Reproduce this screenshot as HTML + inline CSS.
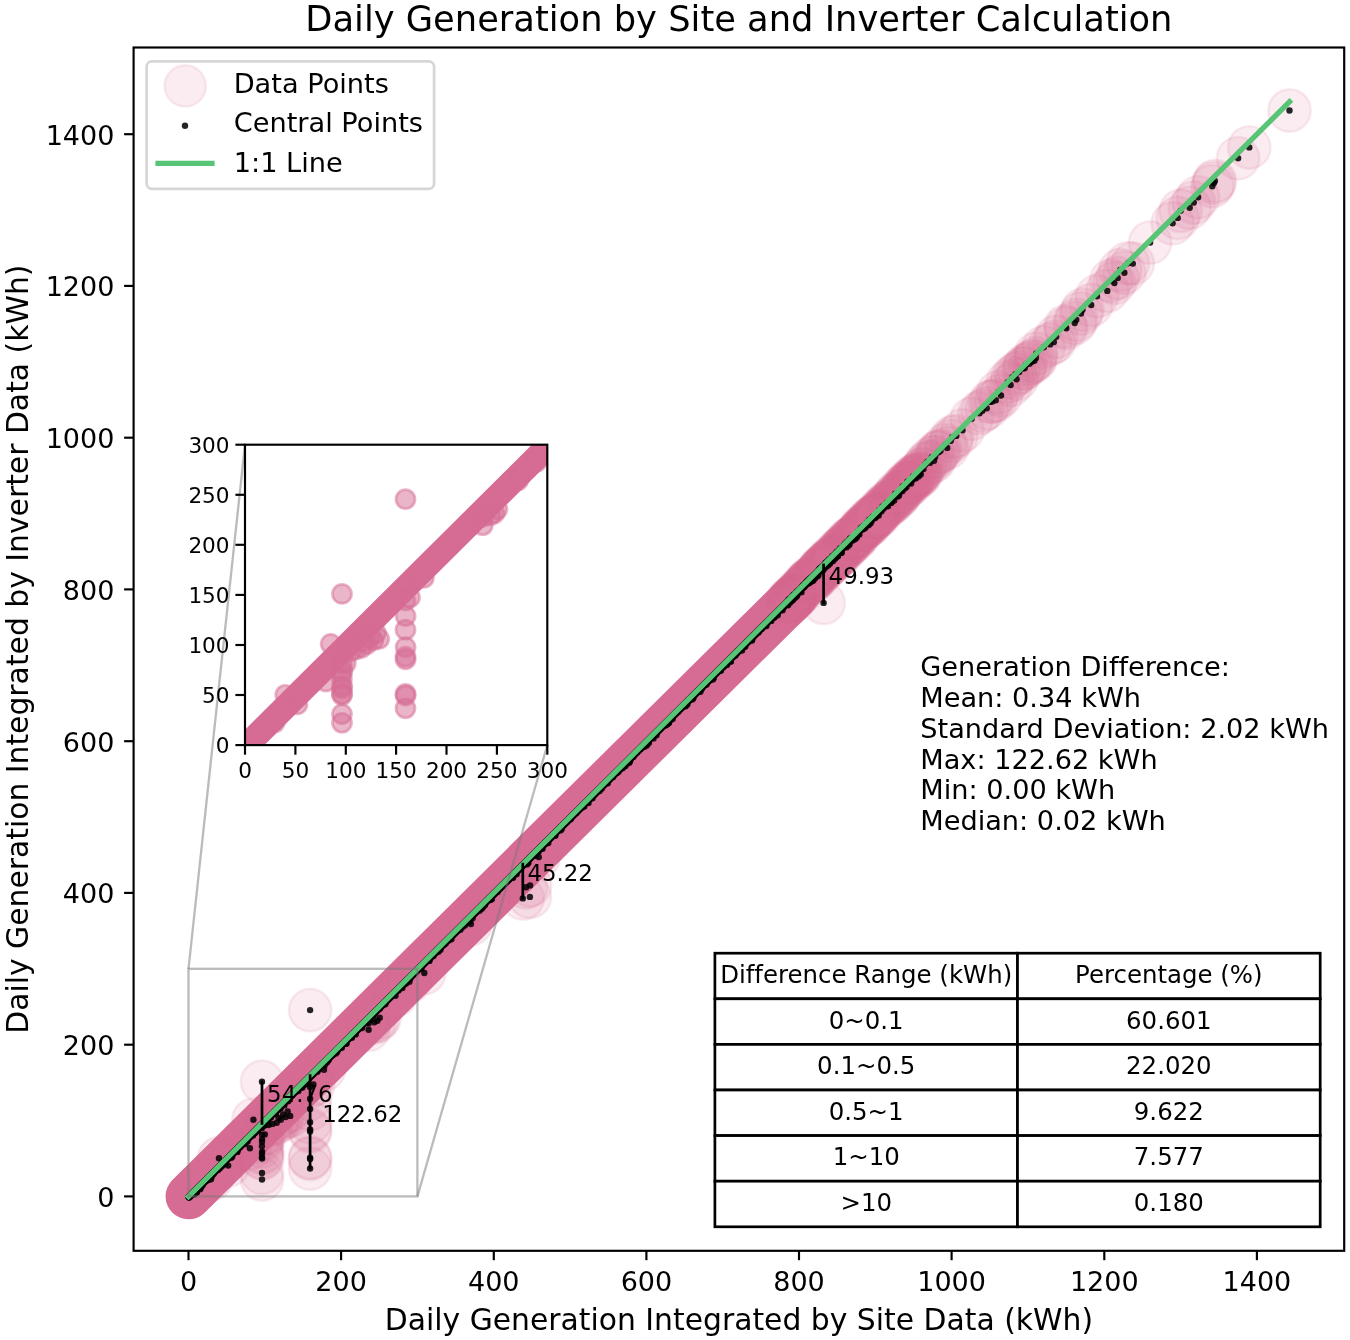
<!DOCTYPE html>
<html lang="en"><head><meta charset="utf-8"><title>Daily Generation by Site and Inverter Calculation</title>
<style>html,body{margin:0;padding:0;background:#fff}svg{display:block;font-variant-ligatures:none}</style></head>
<body>
<svg width="1350" height="1340" viewBox="0 0 1350 1340" font-family='"DejaVu Sans","Liberation Sans",sans-serif'>
<rect width="1350" height="1340" fill="#fff"/>
<defs><clipPath id="cm"><rect x="133.6" y="47.5" width="1210.6000000000001" height="1203.3"/></clipPath><clipPath id="ci"><rect x="245.0" y="444.7" width="302.29999999999995" height="300.40000000000003"/></clipPath></defs>
<g clip-path="url(#cm)">
<line x1="188.5" y1="1196.4" x2="795.2" y2="595.9" stroke="#d66b94" stroke-width="45.900000000000006" stroke-linecap="round"/>
<g fill="#d66b94" fill-opacity=".13" stroke="#d66b94" stroke-opacity=".13" stroke-width="2.4">
<circle cx="310.1" cy="1010.1" r="21.3"/>
<circle cx="262" cy="1081.8" r="21.3"/>
<circle cx="262" cy="1134.6" r="21.3"/>
<circle cx="262.1" cy="1139.1" r="21.3"/>
<circle cx="262" cy="1141.8" r="21.3"/>
<circle cx="261.9" cy="1146.3" r="21.3"/>
<circle cx="262.1" cy="1151.6" r="21.3"/>
<circle cx="262" cy="1153.5" r="21.3"/>
<circle cx="261.9" cy="1157.3" r="21.3"/>
<circle cx="262.1" cy="1158.5" r="21.3"/>
<circle cx="262" cy="1172.9" r="21.3"/>
<circle cx="262" cy="1179.5" r="21.3"/>
<circle cx="310.1" cy="1076.6" r="21.3"/>
<circle cx="310.1" cy="1086.9" r="21.3"/>
<circle cx="310.1" cy="1098.7" r="21.3"/>
<circle cx="310.1" cy="1109" r="21.3"/>
<circle cx="310.1" cy="1122.2" r="21.3"/>
<circle cx="310.1" cy="1129.4" r="21.3"/>
<circle cx="310.1" cy="1131.5" r="21.3"/>
<circle cx="310.1" cy="1157.6" r="21.3"/>
<circle cx="310.1" cy="1158.9" r="21.3"/>
<circle cx="310.1" cy="1168.5" r="21.3"/>
<circle cx="253.4" cy="1119.7" r="21.3"/>
<circle cx="219" cy="1158.3" r="21.3"/>
<circle cx="228.2" cy="1165.6" r="21.3"/>
<circle cx="249.9" cy="1148.2" r="21.3"/>
<circle cx="264.8" cy="1134.4" r="21.3"/>
<circle cx="211" cy="1179.3" r="21.3"/>
<circle cx="290.2" cy="1115.9" r="21.3"/>
<circle cx="285.6" cy="1117" r="21.3"/>
<circle cx="280.8" cy="1119.8" r="21.3"/>
<circle cx="276.7" cy="1122.7" r="21.3"/>
<circle cx="272.4" cy="1123.9" r="21.3"/>
<circle cx="283.1" cy="1114.5" r="21.3"/>
<circle cx="278.6" cy="1117.9" r="21.3"/>
<circle cx="268.6" cy="1125.1" r="21.3"/>
<circle cx="287.7" cy="1111.4" r="21.3"/>
<circle cx="324" cy="1069.7" r="21.3"/>
<circle cx="313.4" cy="1084.5" r="21.3"/>
<circle cx="368.6" cy="1029.8" r="21.3"/>
<circle cx="374.3" cy="1022.3" r="21.3"/>
<circle cx="377.4" cy="1020.8" r="21.3"/>
<circle cx="379.7" cy="1017.7" r="21.3"/>
<circle cx="395.5" cy="995.7" r="21.3"/>
<circle cx="409.4" cy="981.7" r="21.3"/>
<circle cx="424.3" cy="973" r="21.3"/>
<circle cx="522.8" cy="898.4" r="21.3"/>
<circle cx="529.9" cy="896.9" r="21.3"/>
<circle cx="530.1" cy="885.4" r="21.3"/>
<circle cx="526" cy="887.2" r="21.3"/>
<circle cx="538.8" cy="857.1" r="21.3"/>
<circle cx="470.9" cy="924" r="21.3"/>
<circle cx="368.6" cy="1023.4" r="21.3"/>
<circle cx="823.6" cy="602.9" r="21.3"/>
<circle cx="1289.5" cy="110.5" r="21.3"/>
<circle cx="1249.3" cy="147.4" r="21.3"/>
<circle cx="1238.1" cy="158.2" r="21.3"/>
<circle cx="1214.9" cy="180.9" r="21.3"/>
<circle cx="1213.9" cy="183" r="21.3"/>
<circle cx="1212.3" cy="186.2" r="21.3"/>
<circle cx="1198.1" cy="197.2" r="21.3"/>
<circle cx="1193.8" cy="202.6" r="21.3"/>
<circle cx="1189.7" cy="207.8" r="21.3"/>
<circle cx="1177.7" cy="217.9" r="21.3"/>
<circle cx="1172.6" cy="223.3" r="21.3"/>
<circle cx="1180.6" cy="210.8" r="21.3"/>
<circle cx="1150.1" cy="242.6" r="21.3"/>
<circle cx="1132.8" cy="263.6" r="21.3"/>
<circle cx="1124.4" cy="272.7" r="21.3"/>
<circle cx="1117.7" cy="277.9" r="21.3"/>
<circle cx="1114.4" cy="283.1" r="21.3"/>
<circle cx="1107.3" cy="290.9" r="21.3"/>
<circle cx="1127.9" cy="263.2" r="21.3"/>
<circle cx="1120.3" cy="270" r="21.3"/>
<circle cx="1111.1" cy="280.6" r="21.3"/>
<circle cx="1097" cy="296.2" r="21.3"/>
<circle cx="1091.2" cy="305" r="21.3"/>
<circle cx="1082.5" cy="309.8" r="21.3"/>
<circle cx="1076.3" cy="319.8" r="21.3"/>
<circle cx="1074.7" cy="323" r="21.3"/>
<circle cx="1066.3" cy="328.3" r="21.3"/>
<circle cx="1056.2" cy="336.8" r="21.3"/>
<circle cx="1053.9" cy="342.1" r="21.3"/>
<circle cx="1050.1" cy="344.4" r="21.3"/>
<circle cx="1065.3" cy="326.4" r="21.3"/>
<circle cx="1081" cy="313.5" r="21.3"/>
<circle cx="1035.9" cy="357.9" r="21.3"/>
<circle cx="1043.8" cy="347.2" r="21.3"/>
<circle cx="1010.6" cy="385" r="21.3"/>
<circle cx="1012.4" cy="377.2" r="21.3"/>
<circle cx="1015.5" cy="374.2" r="21.3"/>
<circle cx="1016.6" cy="379.3" r="21.3"/>
<circle cx="1019.1" cy="372" r="21.3"/>
<circle cx="1023" cy="368.6" r="21.3"/>
<circle cx="1024.8" cy="368" r="21.3"/>
<circle cx="1025.8" cy="365" r="21.3"/>
<circle cx="1029.5" cy="363.7" r="21.3"/>
<circle cx="1031.6" cy="361.8" r="21.3"/>
<circle cx="1034.4" cy="360.7" r="21.3"/>
<circle cx="1036.1" cy="353.7" r="21.3"/>
<circle cx="1007.6" cy="382.1" r="21.3"/>
<circle cx="979.5" cy="413.2" r="21.3"/>
<circle cx="982.4" cy="410.7" r="21.3"/>
<circle cx="986.7" cy="408.2" r="21.3"/>
<circle cx="990.2" cy="401.9" r="21.3"/>
<circle cx="992.3" cy="401.6" r="21.3"/>
<circle cx="995.8" cy="400.3" r="21.3"/>
<circle cx="998.2" cy="392.4" r="21.3"/>
<circle cx="1001" cy="395.5" r="21.3"/>
<circle cx="956.3" cy="435.9" r="21.3"/>
<circle cx="962.5" cy="430.3" r="21.3"/>
<circle cx="971.7" cy="418.7" r="21.3"/>
<circle cx="940.5" cy="450.8" r="21.3"/>
<circle cx="945.3" cy="445" r="21.3"/>
<circle cx="947.2" cy="447.9" r="21.3"/>
<circle cx="950.8" cy="440.8" r="21.3"/>
<circle cx="952.2" cy="437.2" r="21.3"/>
<circle cx="921.4" cy="469.3" r="21.3"/>
<circle cx="923.5" cy="469" r="21.3"/>
<circle cx="925.4" cy="464.4" r="21.3"/>
<circle cx="927.5" cy="461.6" r="21.3"/>
<circle cx="930.1" cy="462.7" r="21.3"/>
<circle cx="931.9" cy="457.3" r="21.3"/>
<circle cx="934" cy="460.8" r="21.3"/>
<circle cx="935.2" cy="456.9" r="21.3"/>
<circle cx="937.6" cy="452.6" r="21.3"/>
<circle cx="938.7" cy="452.1" r="21.3"/>
<circle cx="879.2" cy="510.3" r="21.3"/>
<circle cx="880" cy="511.4" r="21.3"/>
<circle cx="881.5" cy="511.3" r="21.3"/>
<circle cx="881.8" cy="509.6" r="21.3"/>
<circle cx="882.5" cy="506.5" r="21.3"/>
<circle cx="883.6" cy="508.5" r="21.3"/>
<circle cx="884.1" cy="507.3" r="21.3"/>
<circle cx="885.5" cy="504.9" r="21.3"/>
<circle cx="886.4" cy="506" r="21.3"/>
<circle cx="886.8" cy="502.8" r="21.3"/>
<circle cx="888" cy="506.2" r="21.3"/>
<circle cx="888.2" cy="503.3" r="21.3"/>
<circle cx="889.5" cy="503" r="21.3"/>
<circle cx="889.9" cy="500.8" r="21.3"/>
<circle cx="891.2" cy="502.9" r="21.3"/>
<circle cx="891.9" cy="501.7" r="21.3"/>
<circle cx="892.5" cy="499" r="21.3"/>
<circle cx="892.9" cy="498.2" r="21.3"/>
<circle cx="894.2" cy="500.6" r="21.3"/>
<circle cx="895.2" cy="493.8" r="21.3"/>
<circle cx="895.6" cy="495.2" r="21.3"/>
<circle cx="896.3" cy="494.4" r="21.3"/>
<circle cx="897.6" cy="496.6" r="21.3"/>
<circle cx="898.2" cy="495.8" r="21.3"/>
<circle cx="899" cy="495.6" r="21.3"/>
<circle cx="899.9" cy="492.3" r="21.3"/>
<circle cx="900.8" cy="490.7" r="21.3"/>
<circle cx="901.7" cy="490.1" r="21.3"/>
<circle cx="902.5" cy="491.1" r="21.3"/>
<circle cx="902.7" cy="486.4" r="21.3"/>
<circle cx="904" cy="486.4" r="21.3"/>
<circle cx="905" cy="488.3" r="21.3"/>
<circle cx="905.4" cy="484.9" r="21.3"/>
<circle cx="906.6" cy="486.7" r="21.3"/>
<circle cx="907.3" cy="481.7" r="21.3"/>
<circle cx="908.1" cy="482.8" r="21.3"/>
<circle cx="908.4" cy="482.6" r="21.3"/>
<circle cx="909.2" cy="482.8" r="21.3"/>
<circle cx="910.5" cy="481.1" r="21.3"/>
<circle cx="911.1" cy="483.6" r="21.3"/>
<circle cx="912.2" cy="480.3" r="21.3"/>
<circle cx="912.7" cy="477.1" r="21.3"/>
<circle cx="913.2" cy="476.5" r="21.3"/>
<circle cx="914" cy="478.4" r="21.3"/>
<circle cx="915.1" cy="476.4" r="21.3"/>
<circle cx="915.9" cy="478.2" r="21.3"/>
<circle cx="916.7" cy="474.4" r="21.3"/>
<circle cx="917.7" cy="474.9" r="21.3"/>
<circle cx="918.5" cy="476.4" r="21.3"/>
<circle cx="919.2" cy="473.4" r="21.3"/>
<circle cx="920.1" cy="472.2" r="21.3"/>
<circle cx="920.7" cy="474.4" r="21.3"/>
<circle cx="837.6" cy="556.3" r="21.3"/>
<circle cx="838" cy="555.9" r="21.3"/>
<circle cx="838.3" cy="551.5" r="21.3"/>
<circle cx="838.8" cy="551.6" r="21.3"/>
<circle cx="839.7" cy="549" r="21.3"/>
<circle cx="840" cy="552.8" r="21.3"/>
<circle cx="840.5" cy="548.2" r="21.3"/>
<circle cx="841.1" cy="552.9" r="21.3"/>
<circle cx="841.8" cy="552.4" r="21.3"/>
<circle cx="842.2" cy="549.2" r="21.3"/>
<circle cx="842.8" cy="547.4" r="21.3"/>
<circle cx="843.6" cy="545.8" r="21.3"/>
<circle cx="844" cy="545.4" r="21.3"/>
<circle cx="844.6" cy="547.2" r="21.3"/>
<circle cx="845.3" cy="543.4" r="21.3"/>
<circle cx="845.4" cy="545.2" r="21.3"/>
<circle cx="846.3" cy="544.3" r="21.3"/>
<circle cx="846.7" cy="547.2" r="21.3"/>
<circle cx="847.1" cy="541.6" r="21.3"/>
<circle cx="847.8" cy="545" r="21.3"/>
<circle cx="848.1" cy="544.7" r="21.3"/>
<circle cx="848.7" cy="545.4" r="21.3"/>
<circle cx="849.6" cy="539.1" r="21.3"/>
<circle cx="849.7" cy="543.9" r="21.3"/>
<circle cx="850.4" cy="538.3" r="21.3"/>
<circle cx="850.9" cy="539" r="21.3"/>
<circle cx="851.5" cy="538.4" r="21.3"/>
<circle cx="851.9" cy="538.4" r="21.3"/>
<circle cx="852.6" cy="540.6" r="21.3"/>
<circle cx="853.2" cy="537" r="21.3"/>
<circle cx="853.5" cy="537" r="21.3"/>
<circle cx="854.5" cy="537.7" r="21.3"/>
<circle cx="854.9" cy="539.3" r="21.3"/>
<circle cx="855.6" cy="535.9" r="21.3"/>
<circle cx="856.2" cy="535.2" r="21.3"/>
<circle cx="856.6" cy="537.8" r="21.3"/>
<circle cx="857.2" cy="535.7" r="21.3"/>
<circle cx="857.6" cy="533.6" r="21.3"/>
<circle cx="858" cy="531.7" r="21.3"/>
<circle cx="858.6" cy="531.6" r="21.3"/>
<circle cx="859.4" cy="534.4" r="21.3"/>
<circle cx="859.7" cy="530.9" r="21.3"/>
<circle cx="860.3" cy="529.8" r="21.3"/>
<circle cx="860.8" cy="528.1" r="21.3"/>
<circle cx="861.5" cy="527.4" r="21.3"/>
<circle cx="861.9" cy="529.3" r="21.3"/>
<circle cx="862.5" cy="529.4" r="21.3"/>
<circle cx="862.9" cy="529.1" r="21.3"/>
<circle cx="863.5" cy="526.3" r="21.3"/>
<circle cx="863.9" cy="525.6" r="21.3"/>
<circle cx="864.6" cy="527.9" r="21.3"/>
<circle cx="865.4" cy="527.4" r="21.3"/>
<circle cx="866" cy="525.4" r="21.3"/>
<circle cx="866.6" cy="523.6" r="21.3"/>
<circle cx="867" cy="522.7" r="21.3"/>
<circle cx="867.6" cy="525.1" r="21.3"/>
<circle cx="868.1" cy="522" r="21.3"/>
<circle cx="868.5" cy="525.3" r="21.3"/>
<circle cx="869.2" cy="519.6" r="21.3"/>
<circle cx="869.7" cy="523.4" r="21.3"/>
<circle cx="869.9" cy="520.2" r="21.3"/>
<circle cx="870.5" cy="523.3" r="21.3"/>
<circle cx="871.3" cy="521.4" r="21.3"/>
<circle cx="871.8" cy="517.7" r="21.3"/>
<circle cx="872.5" cy="519.6" r="21.3"/>
<circle cx="873" cy="516.8" r="21.3"/>
<circle cx="873.3" cy="516.5" r="21.3"/>
<circle cx="874.1" cy="516.4" r="21.3"/>
<circle cx="874.8" cy="517.3" r="21.3"/>
<circle cx="875" cy="518" r="21.3"/>
<circle cx="875.7" cy="517.2" r="21.3"/>
<circle cx="876" cy="514.8" r="21.3"/>
<circle cx="876.6" cy="515.9" r="21.3"/>
<circle cx="877" cy="513.9" r="21.3"/>
<circle cx="877.9" cy="515.2" r="21.3"/>
<circle cx="878.3" cy="513.6" r="21.3"/>
<circle cx="878.7" cy="515.6" r="21.3"/>
<circle cx="788" cy="605.2" r="21.3"/>
<circle cx="788.2" cy="600.2" r="21.3"/>
<circle cx="788.7" cy="601.4" r="21.3"/>
<circle cx="789.3" cy="600.5" r="21.3"/>
<circle cx="789.4" cy="599" r="21.3"/>
<circle cx="789.9" cy="602.8" r="21.3"/>
<circle cx="790.7" cy="601.5" r="21.3"/>
<circle cx="791.1" cy="600" r="21.3"/>
<circle cx="791.2" cy="600" r="21.3"/>
<circle cx="791.8" cy="597.8" r="21.3"/>
<circle cx="792.2" cy="600.6" r="21.3"/>
<circle cx="792.9" cy="600" r="21.3"/>
<circle cx="793.4" cy="595" r="21.3"/>
<circle cx="793.6" cy="597.1" r="21.3"/>
<circle cx="794.3" cy="597.3" r="21.3"/>
<circle cx="794.5" cy="595.7" r="21.3"/>
<circle cx="794.8" cy="598" r="21.3"/>
<circle cx="795.7" cy="594.4" r="21.3"/>
<circle cx="795.9" cy="593.9" r="21.3"/>
<circle cx="796.6" cy="596.5" r="21.3"/>
<circle cx="796.9" cy="591.6" r="21.3"/>
<circle cx="797.3" cy="595" r="21.3"/>
<circle cx="797.8" cy="593.2" r="21.3"/>
<circle cx="798.2" cy="592.1" r="21.3"/>
<circle cx="798.8" cy="590.7" r="21.3"/>
<circle cx="799" cy="591.3" r="21.3"/>
<circle cx="799.7" cy="590.4" r="21.3"/>
<circle cx="799.9" cy="591.7" r="21.3"/>
<circle cx="800.3" cy="589.4" r="21.3"/>
<circle cx="801.1" cy="590.3" r="21.3"/>
<circle cx="801.5" cy="592.2" r="21.3"/>
<circle cx="801.6" cy="588.3" r="21.3"/>
<circle cx="802.1" cy="587.2" r="21.3"/>
<circle cx="802.6" cy="585.9" r="21.3"/>
<circle cx="803.2" cy="587.7" r="21.3"/>
<circle cx="803.6" cy="587.2" r="21.3"/>
<circle cx="803.8" cy="584.6" r="21.3"/>
<circle cx="804.3" cy="587.1" r="21.3"/>
<circle cx="805.1" cy="584.9" r="21.3"/>
<circle cx="805.3" cy="585.6" r="21.3"/>
<circle cx="806" cy="582.5" r="21.3"/>
<circle cx="806.1" cy="583.1" r="21.3"/>
<circle cx="806.9" cy="584.3" r="21.3"/>
<circle cx="807" cy="581.5" r="21.3"/>
<circle cx="807.8" cy="580.7" r="21.3"/>
<circle cx="808" cy="581.5" r="21.3"/>
<circle cx="808.5" cy="580" r="21.3"/>
<circle cx="809.1" cy="583" r="21.3"/>
<circle cx="809.4" cy="582.2" r="21.3"/>
<circle cx="810" cy="578.5" r="21.3"/>
<circle cx="810.4" cy="580.1" r="21.3"/>
<circle cx="810.7" cy="581.4" r="21.3"/>
<circle cx="811.1" cy="578.3" r="21.3"/>
<circle cx="811.7" cy="579.2" r="21.3"/>
<circle cx="812.2" cy="576.9" r="21.3"/>
<circle cx="812.6" cy="581.1" r="21.3"/>
<circle cx="813.2" cy="578.1" r="21.3"/>
<circle cx="813.4" cy="580.3" r="21.3"/>
<circle cx="813.9" cy="575.3" r="21.3"/>
<circle cx="814.5" cy="576.6" r="21.3"/>
<circle cx="814.9" cy="578.6" r="21.3"/>
<circle cx="815.1" cy="575.6" r="21.3"/>
<circle cx="815.8" cy="574.2" r="21.3"/>
<circle cx="816.3" cy="575.2" r="21.3"/>
<circle cx="816.9" cy="573.7" r="21.3"/>
<circle cx="817" cy="573.1" r="21.3"/>
<circle cx="817.5" cy="576.2" r="21.3"/>
<circle cx="817.9" cy="572.3" r="21.3"/>
<circle cx="818.5" cy="575.2" r="21.3"/>
<circle cx="818.9" cy="569.7" r="21.3"/>
<circle cx="819.2" cy="570.1" r="21.3"/>
<circle cx="819.8" cy="568.8" r="21.3"/>
<circle cx="820.4" cy="568.2" r="21.3"/>
<circle cx="820.6" cy="567.9" r="21.3"/>
<circle cx="821.3" cy="568" r="21.3"/>
<circle cx="821.6" cy="569.4" r="21.3"/>
<circle cx="821.9" cy="567.2" r="21.3"/>
<circle cx="822.4" cy="571.3" r="21.3"/>
<circle cx="823.2" cy="566.9" r="21.3"/>
<circle cx="823.6" cy="569.6" r="21.3"/>
<circle cx="823.7" cy="567.8" r="21.3"/>
<circle cx="824.5" cy="565.5" r="21.3"/>
<circle cx="824.9" cy="564.3" r="21.3"/>
<circle cx="825.4" cy="567.5" r="21.3"/>
<circle cx="825.5" cy="563.1" r="21.3"/>
<circle cx="826" cy="562.6" r="21.3"/>
<circle cx="826.5" cy="562.1" r="21.3"/>
<circle cx="827.1" cy="563.3" r="21.3"/>
<circle cx="827.4" cy="563.1" r="21.3"/>
<circle cx="828" cy="565.6" r="21.3"/>
<circle cx="828.6" cy="560.7" r="21.3"/>
<circle cx="828.8" cy="559.8" r="21.3"/>
<circle cx="829.2" cy="561.2" r="21.3"/>
<circle cx="829.7" cy="564" r="21.3"/>
<circle cx="830.3" cy="562.5" r="21.3"/>
<circle cx="830.8" cy="561.4" r="21.3"/>
<circle cx="831" cy="559.9" r="21.3"/>
<circle cx="831.3" cy="558.8" r="21.3"/>
<circle cx="831.9" cy="557.6" r="21.3"/>
<circle cx="832.5" cy="556.2" r="21.3"/>
<circle cx="833.1" cy="561" r="21.3"/>
<circle cx="833.1" cy="556.5" r="21.3"/>
<circle cx="833.9" cy="557.5" r="21.3"/>
<circle cx="834.2" cy="558.1" r="21.3"/>
<circle cx="834.8" cy="558.6" r="21.3"/>
<circle cx="835" cy="558.4" r="21.3"/>
<circle cx="835.6" cy="555.4" r="21.3"/>
<circle cx="835.9" cy="554.5" r="21.3"/>
<circle cx="836.3" cy="557.3" r="21.3"/>
<circle cx="836.9" cy="551.8" r="21.3"/>
</g>
<g fill="#000" fill-opacity=".85">
<line x1="189.1" y1="1197" x2="837.8" y2="552.1" stroke="#000" stroke-width="7.7" stroke-linecap="round"/>
<circle cx="538.8" cy="850" r="3.2"/>
<circle cx="744.5" cy="647" r="3.2"/>
<circle cx="869.1" cy="521.2" r="3.2"/>
<circle cx="516.6" cy="874.2" r="3.2"/>
<circle cx="766.4" cy="626.1" r="3.2"/>
<circle cx="219.9" cy="1167.3" r="3.2"/>
<circle cx="273.7" cy="1113.4" r="3.2"/>
<circle cx="856.9" cy="535" r="3.2"/>
<circle cx="827.6" cy="563.4" r="3.2"/>
<circle cx="783.9" cy="607.1" r="3.2"/>
<circle cx="369.9" cy="1019.9" r="3.2"/>
<circle cx="838.2" cy="551.9" r="3.2"/>
<circle cx="599.5" cy="791.1" r="3.2"/>
<circle cx="341" cy="1047.2" r="3.2"/>
<circle cx="288.9" cy="1098.4" r="3.2"/>
<circle cx="366.4" cy="1022.7" r="3.2"/>
<circle cx="637.4" cy="751.9" r="3.2"/>
<circle cx="200.1" cy="1187.1" r="3.2"/>
<circle cx="655.6" cy="733.8" r="3.2"/>
<circle cx="405.5" cy="982.4" r="3.2"/>
<circle cx="735.5" cy="655.6" r="3.2"/>
<circle cx="235.5" cy="1151.1" r="3.2"/>
<circle cx="462.3" cy="927.2" r="3.2"/>
<circle cx="628.9" cy="760" r="3.2"/>
<circle cx="304.1" cy="1085" r="3.2"/>
<circle cx="472.2" cy="916.4" r="3.2"/>
<circle cx="402.4" cy="988.1" r="3.2"/>
<circle cx="405.7" cy="983.6" r="3.2"/>
<circle cx="436.3" cy="952.6" r="3.2"/>
<circle cx="782.6" cy="610.3" r="3.2"/>
<circle cx="440.8" cy="947.4" r="3.2"/>
<circle cx="689.6" cy="700.1" r="3.2"/>
<circle cx="196.3" cy="1192.8" r="3.2"/>
<circle cx="481.7" cy="908.8" r="3.2"/>
<circle cx="469.8" cy="920.9" r="3.2"/>
<circle cx="507.1" cy="881.3" r="3.2"/>
<circle cx="202.4" cy="1185.6" r="3.2"/>
<circle cx="629.9" cy="761.8" r="3.2"/>
<circle cx="253.1" cy="1135.4" r="3.2"/>
<circle cx="445.6" cy="943.6" r="3.2"/>
<circle cx="292" cy="1095.6" r="3.2"/>
<circle cx="548.3" cy="843" r="3.2"/>
<circle cx="266.6" cy="1121.5" r="3.2"/>
<circle cx="742" cy="650.5" r="3.2"/>
<circle cx="327.1" cy="1060.2" r="3.2"/>
<circle cx="836.4" cy="556.7" r="3.2"/>
<circle cx="522" cy="866.1" r="3.2"/>
<circle cx="824.9" cy="566.2" r="3.2"/>
<circle cx="809.9" cy="581.9" r="3.2"/>
<circle cx="755.5" cy="634.4" r="3.2"/>
<circle cx="729" cy="660.9" r="3.2"/>
<circle cx="468.6" cy="922" r="3.2"/>
<circle cx="758.7" cy="631.3" r="3.2"/>
<circle cx="341.3" cy="1047" r="3.2"/>
<circle cx="546" cy="843.4" r="3.2"/>
<circle cx="276.4" cy="1111" r="3.2"/>
<circle cx="687.4" cy="704.6" r="3.2"/>
<circle cx="220.4" cy="1167.8" r="3.2"/>
<circle cx="709.7" cy="679.5" r="3.2"/>
<circle cx="764.8" cy="625" r="3.2"/>
<circle cx="601.8" cy="788.5" r="3.2"/>
<circle cx="620.6" cy="769" r="3.2"/>
<circle cx="479.2" cy="910.5" r="3.2"/>
<circle cx="483.1" cy="906.9" r="3.2"/>
<circle cx="497.5" cy="891.9" r="3.2"/>
<circle cx="208.3" cy="1180" r="3.2"/>
<circle cx="526.7" cy="862.2" r="3.2"/>
<circle cx="713.8" cy="677.9" r="3.2"/>
<circle cx="505.3" cy="883.2" r="3.2"/>
<circle cx="515.5" cy="872.8" r="3.2"/>
<circle cx="280.1" cy="1108" r="3.2"/>
<circle cx="255" cy="1133" r="3.2"/>
<circle cx="540.8" cy="847.5" r="3.2"/>
<circle cx="627" cy="761.9" r="3.2"/>
<circle cx="693.3" cy="698.3" r="3.2"/>
<circle cx="541.7" cy="846.6" r="3.2"/>
<circle cx="536.5" cy="852.8" r="3.2"/>
<circle cx="841.8" cy="548.5" r="3.2"/>
<circle cx="777.7" cy="615.2" r="3.2"/>
<circle cx="692.3" cy="699.4" r="3.2"/>
<circle cx="324.6" cy="1065.6" r="3.2"/>
<circle cx="528.3" cy="863" r="3.2"/>
<circle cx="818" cy="572.3" r="3.2"/>
<circle cx="730.8" cy="661.6" r="3.2"/>
<circle cx="237.1" cy="1150.5" r="3.2"/>
<circle cx="708.8" cy="680.8" r="3.2"/>
<circle cx="804.7" cy="585.9" r="3.2"/>
<circle cx="749.4" cy="640.4" r="3.2"/>
<circle cx="535.3" cy="855.9" r="3.2"/>
<circle cx="334.6" cy="1053.2" r="3.2"/>
<circle cx="537.9" cy="851.2" r="3.2"/>
<circle cx="217.5" cy="1169.4" r="3.2"/>
<circle cx="302.4" cy="1087.5" r="3.2"/>
<circle cx="656.5" cy="735.3" r="3.2"/>
<circle cx="307.6" cy="1081.8" r="3.2"/>
<circle cx="270.9" cy="1117.4" r="3.2"/>
<circle cx="626.9" cy="762.9" r="3.2"/>
<circle cx="788.6" cy="602.9" r="3.2"/>
<circle cx="588.5" cy="802.9" r="3.2"/>
<circle cx="263.8" cy="1126.1" r="3.2"/>
<circle cx="622.5" cy="767.4" r="3.2"/>
<circle cx="737.1" cy="653" r="3.2"/>
<circle cx="868.8" cy="523.1" r="3.2"/>
<circle cx="438.4" cy="951.7" r="3.2"/>
<circle cx="494.4" cy="894" r="3.2"/>
<circle cx="700.2" cy="689" r="3.2"/>
<circle cx="752.3" cy="637.9" r="3.2"/>
<circle cx="628.9" cy="763" r="3.2"/>
<circle cx="592.5" cy="798.2" r="3.2"/>
<circle cx="405.9" cy="981.4" r="3.2"/>
<circle cx="215.4" cy="1171.3" r="3.2"/>
<circle cx="613.1" cy="776.9" r="3.2"/>
<circle cx="542.5" cy="848.7" r="3.2"/>
<circle cx="282.5" cy="1104.9" r="3.2"/>
<circle cx="638.4" cy="750.3" r="3.2"/>
<circle cx="194.1" cy="1193.2" r="3.2"/>
<circle cx="265" cy="1122.7" r="3.2"/>
<circle cx="345.5" cy="1043.5" r="3.2"/>
<circle cx="594.7" cy="794.4" r="3.2"/>
<circle cx="618.5" cy="771.7" r="3.2"/>
<circle cx="284.4" cy="1105.4" r="3.2"/>
<circle cx="358.7" cy="1028.8" r="3.2"/>
<circle cx="257.8" cy="1130.9" r="3.2"/>
<circle cx="787.4" cy="604.8" r="3.2"/>
<circle cx="466.9" cy="921.7" r="3.2"/>
<circle cx="200.2" cy="1188.1" r="3.2"/>
<circle cx="576.4" cy="813.1" r="3.2"/>
<circle cx="633.3" cy="756.9" r="3.2"/>
<circle cx="832.4" cy="559.9" r="3.2"/>
<circle cx="362" cy="1028.1" r="3.2"/>
<circle cx="222.4" cy="1165.7" r="3.2"/>
<circle cx="469.6" cy="918.9" r="3.2"/>
<circle cx="232.2" cy="1156.8" r="3.2"/>
<circle cx="200.8" cy="1187.2" r="3.2"/>
<circle cx="835" cy="555.3" r="3.2"/>
<circle cx="328.6" cy="1060.3" r="3.2"/>
<circle cx="538.6" cy="851.7" r="3.2"/>
<circle cx="747.9" cy="642" r="3.2"/>
<circle cx="403.6" cy="984.7" r="3.2"/>
<circle cx="225.4" cy="1163.9" r="3.2"/>
<circle cx="727.1" cy="664.5" r="3.2"/>
<circle cx="196.7" cy="1192.3" r="3.2"/>
<circle cx="701.3" cy="689.3" r="3.2"/>
<circle cx="698.9" cy="691.6" r="3.2"/>
<circle cx="346.6" cy="1040.7" r="3.2"/>
<circle cx="351" cy="1036.1" r="3.2"/>
<circle cx="421.5" cy="968.5" r="3.2"/>
<circle cx="667.1" cy="724.6" r="3.2"/>
<circle cx="678.4" cy="711.4" r="3.2"/>
<circle cx="570.6" cy="819.2" r="3.2"/>
<circle cx="730.8" cy="660.1" r="3.2"/>
<circle cx="373.5" cy="1015.8" r="3.2"/>
<circle cx="851.5" cy="539.1" r="3.2"/>
<circle cx="793.4" cy="596.2" r="3.2"/>
<circle cx="370.2" cy="1017.7" r="3.2"/>
<circle cx="700.4" cy="691.8" r="3.2"/>
<circle cx="701.9" cy="688.2" r="3.2"/>
<circle cx="793.5" cy="597.2" r="3.2"/>
<circle cx="355.7" cy="1034.4" r="3.2"/>
<circle cx="623.1" cy="767.8" r="3.2"/>
<circle cx="646.7" cy="745.4" r="3.2"/>
<circle cx="513" cy="877.8" r="3.2"/>
<circle cx="668.8" cy="723" r="3.2"/>
<circle cx="490.9" cy="899.3" r="3.2"/>
<circle cx="581.9" cy="807.5" r="3.2"/>
<circle cx="337.1" cy="1051.9" r="3.2"/>
<circle cx="245.5" cy="1144" r="3.2"/>
<circle cx="291.1" cy="1095.6" r="3.2"/>
<circle cx="265.2" cy="1124.5" r="3.2"/>
<circle cx="427.9" cy="960.1" r="3.2"/>
<circle cx="211.9" cy="1174.4" r="3.2"/>
<circle cx="665.4" cy="725.6" r="3.2"/>
<circle cx="668.4" cy="723" r="3.2"/>
<circle cx="237.2" cy="1151.1" r="3.2"/>
<circle cx="440.5" cy="949.8" r="3.2"/>
<circle cx="752.1" cy="640.3" r="3.2"/>
<circle cx="237.4" cy="1151.9" r="3.2"/>
<circle cx="816.9" cy="576" r="3.2"/>
<circle cx="265.5" cy="1121.7" r="3.2"/>
<circle cx="268.8" cy="1117.8" r="3.2"/>
<circle cx="771.3" cy="620.9" r="3.2"/>
<circle cx="625.5" cy="765.9" r="3.2"/>
<circle cx="623.7" cy="765.9" r="3.2"/>
<circle cx="260.5" cy="1126.3" r="3.2"/>
<circle cx="709.6" cy="680.2" r="3.2"/>
<circle cx="410.3" cy="978.5" r="3.2"/>
<circle cx="206.6" cy="1180.4" r="3.2"/>
<circle cx="385.3" cy="1004.3" r="3.2"/>
<circle cx="443.7" cy="944.9" r="3.2"/>
<circle cx="850.7" cy="540.9" r="3.2"/>
<circle cx="773.8" cy="617.7" r="3.2"/>
<circle cx="213.5" cy="1174.1" r="3.2"/>
<circle cx="490.4" cy="900" r="3.2"/>
<circle cx="429.2" cy="960.7" r="3.2"/>
<circle cx="559.7" cy="829.2" r="3.2"/>
<circle cx="781.2" cy="608.6" r="3.2"/>
<circle cx="752.3" cy="637.6" r="3.2"/>
<circle cx="193.2" cy="1193.6" r="3.2"/>
<circle cx="712.9" cy="679.5" r="3.2"/>
<circle cx="195.3" cy="1192.5" r="3.2"/>
<circle cx="528" cy="862.7" r="3.2"/>
<circle cx="318.3" cy="1070.1" r="3.2"/>
<circle cx="429.4" cy="960.8" r="3.2"/>
<circle cx="370.3" cy="1020" r="3.2"/>
<circle cx="386.1" cy="1001.8" r="3.2"/>
<circle cx="670.1" cy="720.5" r="3.2"/>
<circle cx="267.4" cy="1121.3" r="3.2"/>
<circle cx="247.6" cy="1141.5" r="3.2"/>
<circle cx="668.5" cy="723" r="3.2"/>
<circle cx="621.2" cy="768.6" r="3.2"/>
<circle cx="466.4" cy="922.6" r="3.2"/>
<circle cx="800.5" cy="589.4" r="3.2"/>
<circle cx="799.1" cy="590.5" r="3.2"/>
<circle cx="333.1" cy="1054.7" r="3.2"/>
<circle cx="807.9" cy="583.5" r="3.2"/>
<circle cx="451.4" cy="939.2" r="3.2"/>
<circle cx="351.9" cy="1036.7" r="3.2"/>
<circle cx="555.4" cy="835.4" r="3.2"/>
<circle cx="706.6" cy="684.6" r="3.2"/>
<circle cx="430.3" cy="958.2" r="3.2"/>
<circle cx="298.4" cy="1091.1" r="3.2"/>
<circle cx="644.5" cy="746.7" r="3.2"/>
<circle cx="308.1" cy="1080.1" r="3.2"/>
<circle cx="720.6" cy="670.5" r="3.2"/>
<circle cx="278.4" cy="1109.7" r="3.2"/>
<circle cx="796.9" cy="593.5" r="3.2"/>
<circle cx="323.2" cy="1064.7" r="3.2"/>
<circle cx="672.6" cy="719.1" r="3.2"/>
<circle cx="297.9" cy="1089.3" r="3.2"/>
<circle cx="361.4" cy="1026.7" r="3.2"/>
<circle cx="549" cy="839.7" r="3.2"/>
<circle cx="416.4" cy="971.6" r="3.2"/>
<circle cx="858.4" cy="534.1" r="3.2"/>
<circle cx="261.9" cy="1127.9" r="3.2"/>
<circle cx="261.7" cy="1126" r="3.2"/>
<circle cx="864.3" cy="528.4" r="3.2"/>
<circle cx="693.2" cy="697.3" r="3.2"/>
<circle cx="326.3" cy="1062.7" r="3.2"/>
<circle cx="265.3" cy="1121.9" r="3.2"/>
<circle cx="457.6" cy="930.2" r="3.2"/>
<circle cx="464.9" cy="925.5" r="3.2"/>
<circle cx="665.9" cy="724.6" r="3.2"/>
<circle cx="624.2" cy="765.9" r="3.2"/>
<circle cx="289.2" cy="1099.5" r="3.2"/>
<circle cx="468.7" cy="921.5" r="3.2"/>
<circle cx="812.5" cy="578.6" r="3.2"/>
<circle cx="584.3" cy="806.5" r="3.2"/>
<circle cx="480" cy="908.5" r="3.2"/>
<circle cx="685.6" cy="706.3" r="3.2"/>
<circle cx="721" cy="670.5" r="3.2"/>
<circle cx="774.5" cy="617.2" r="3.2"/>
<circle cx="630.5" cy="759.7" r="3.2"/>
<circle cx="406.1" cy="983.3" r="3.2"/>
<circle cx="259.2" cy="1128.7" r="3.2"/>
<circle cx="726.7" cy="664.9" r="3.2"/>
<circle cx="622.3" cy="767.1" r="3.2"/>
<circle cx="481.6" cy="907.7" r="3.2"/>
<circle cx="616.9" cy="773.1" r="3.2"/>
<circle cx="653.5" cy="738.4" r="3.2"/>
<circle cx="317.3" cy="1071.7" r="3.2"/>
<circle cx="723.8" cy="666.7" r="3.2"/>
<circle cx="526.9" cy="864.4" r="3.2"/>
<circle cx="218.4" cy="1169.7" r="3.2"/>
<circle cx="302.2" cy="1087.2" r="3.2"/>
<circle cx="834.7" cy="556.8" r="3.2"/>
<circle cx="261.4" cy="1127.1" r="3.2"/>
<circle cx="561.8" cy="828.8" r="3.2"/>
<circle cx="542.1" cy="848.1" r="3.2"/>
<circle cx="758.5" cy="632.6" r="3.2"/>
<circle cx="472.6" cy="918.3" r="3.2"/>
<circle cx="335.8" cy="1053.4" r="3.2"/>
<circle cx="460.4" cy="929.8" r="3.2"/>
<circle cx="275.9" cy="1114" r="3.2"/>
<circle cx="435.1" cy="952.6" r="3.2"/>
<circle cx="379.7" cy="1008.8" r="3.2"/>
<circle cx="201.4" cy="1186.1" r="3.2"/>
<circle cx="479.6" cy="910.6" r="3.2"/>
<circle cx="432.8" cy="955.5" r="3.2"/>
<circle cx="345.6" cy="1043.9" r="3.2"/>
<circle cx="834.3" cy="557.3" r="3.2"/>
<circle cx="341.8" cy="1047.8" r="3.2"/>
<circle cx="460" cy="928.3" r="3.2"/>
<circle cx="280.6" cy="1108.6" r="3.2"/>
<circle cx="745.3" cy="646.2" r="3.2"/>
<circle cx="512.8" cy="877.1" r="3.2"/>
<circle cx="346.7" cy="1043.6" r="3.2"/>
<circle cx="433.5" cy="956.1" r="3.2"/>
<circle cx="751.5" cy="640.6" r="3.2"/>
<circle cx="512" cy="876.9" r="3.2"/>
<circle cx="566.8" cy="821.9" r="3.2"/>
<circle cx="761.8" cy="628.8" r="3.2"/>
<circle cx="773.3" cy="617" r="3.2"/>
<circle cx="449.2" cy="939.2" r="3.2"/>
<circle cx="483.3" cy="905" r="3.2"/>
<circle cx="194.2" cy="1194.4" r="3.2"/>
<circle cx="384.4" cy="1003.6" r="3.2"/>
<circle cx="398.5" cy="990.4" r="3.2"/>
<circle cx="485" cy="905" r="3.2"/>
<circle cx="642.6" cy="747.3" r="3.2"/>
<circle cx="826.6" cy="566" r="3.2"/>
<circle cx="231.3" cy="1157.8" r="3.2"/>
<circle cx="811" cy="581.3" r="3.2"/>
<circle cx="288.2" cy="1101.2" r="3.2"/>
<circle cx="624.8" cy="763.8" r="3.2"/>
<circle cx="200.2" cy="1189.2" r="3.2"/>
<circle cx="640.3" cy="749.2" r="3.2"/>
<circle cx="261.6" cy="1125.3" r="3.2"/>
<circle cx="351.9" cy="1037.7" r="3.2"/>
<circle cx="428.9" cy="959" r="3.2"/>
<circle cx="809.8" cy="582.5" r="3.2"/>
<circle cx="307" cy="1082.8" r="3.2"/>
<circle cx="607.8" cy="783.3" r="3.2"/>
<circle cx="648.9" cy="742.9" r="3.2"/>
<circle cx="730.6" cy="661.5" r="3.2"/>
<circle cx="327.1" cy="1062.1" r="3.2"/>
<circle cx="554.9" cy="835.8" r="3.2"/>
<circle cx="491.9" cy="898.9" r="3.2"/>
<circle cx="571.4" cy="817.7" r="3.2"/>
<circle cx="352.3" cy="1035.2" r="3.2"/>
<circle cx="529.1" cy="859.1" r="3.2"/>
<circle cx="511.3" cy="877.1" r="3.2"/>
<circle cx="527.9" cy="861.8" r="3.2"/>
<circle cx="560.8" cy="830.3" r="3.2"/>
<circle cx="196.8" cy="1192.1" r="3.2"/>
<circle cx="511.9" cy="877.9" r="3.2"/>
<circle cx="646.7" cy="744.8" r="3.2"/>
<circle cx="448.4" cy="940.6" r="3.2"/>
<circle cx="848.4" cy="541.7" r="3.2"/>
<circle cx="627.4" cy="763.3" r="3.2"/>
<circle cx="211.8" cy="1176.5" r="3.2"/>
<circle cx="310.1" cy="1010.1" r="3.2"/>
<circle cx="262" cy="1081.8" r="3.2"/>
<circle cx="262" cy="1134.6" r="3.2"/>
<circle cx="262.1" cy="1139.1" r="3.2"/>
<circle cx="262" cy="1141.8" r="3.2"/>
<circle cx="261.9" cy="1146.3" r="3.2"/>
<circle cx="262.1" cy="1151.6" r="3.2"/>
<circle cx="262" cy="1153.5" r="3.2"/>
<circle cx="261.9" cy="1157.3" r="3.2"/>
<circle cx="262.1" cy="1158.5" r="3.2"/>
<circle cx="262" cy="1172.9" r="3.2"/>
<circle cx="262" cy="1179.5" r="3.2"/>
<circle cx="310.1" cy="1076.6" r="3.2"/>
<circle cx="310.1" cy="1086.9" r="3.2"/>
<circle cx="310.1" cy="1098.7" r="3.2"/>
<circle cx="310.1" cy="1109" r="3.2"/>
<circle cx="310.1" cy="1122.2" r="3.2"/>
<circle cx="310.1" cy="1129.4" r="3.2"/>
<circle cx="310.1" cy="1131.5" r="3.2"/>
<circle cx="310.1" cy="1157.6" r="3.2"/>
<circle cx="310.1" cy="1158.9" r="3.2"/>
<circle cx="310.1" cy="1168.5" r="3.2"/>
<circle cx="253.4" cy="1119.7" r="3.2"/>
<circle cx="219" cy="1158.3" r="3.2"/>
<circle cx="228.2" cy="1165.6" r="3.2"/>
<circle cx="249.9" cy="1148.2" r="3.2"/>
<circle cx="264.8" cy="1134.4" r="3.2"/>
<circle cx="211" cy="1179.3" r="3.2"/>
<circle cx="290.2" cy="1115.9" r="3.2"/>
<circle cx="285.6" cy="1117" r="3.2"/>
<circle cx="280.8" cy="1119.8" r="3.2"/>
<circle cx="276.7" cy="1122.7" r="3.2"/>
<circle cx="272.4" cy="1123.9" r="3.2"/>
<circle cx="283.1" cy="1114.5" r="3.2"/>
<circle cx="278.6" cy="1117.9" r="3.2"/>
<circle cx="268.6" cy="1125.1" r="3.2"/>
<circle cx="287.7" cy="1111.4" r="3.2"/>
<circle cx="324" cy="1069.7" r="3.2"/>
<circle cx="313.4" cy="1084.5" r="3.2"/>
<circle cx="368.6" cy="1029.8" r="3.2"/>
<circle cx="374.3" cy="1022.3" r="3.2"/>
<circle cx="377.4" cy="1020.8" r="3.2"/>
<circle cx="379.7" cy="1017.7" r="3.2"/>
<circle cx="395.5" cy="995.7" r="3.2"/>
<circle cx="409.4" cy="981.7" r="3.2"/>
<circle cx="424.3" cy="973" r="3.2"/>
<circle cx="522.8" cy="898.4" r="3.2"/>
<circle cx="529.9" cy="896.9" r="3.2"/>
<circle cx="530.1" cy="885.4" r="3.2"/>
<circle cx="526" cy="887.2" r="3.2"/>
<circle cx="538.8" cy="857.1" r="3.2"/>
<circle cx="470.9" cy="924" r="3.2"/>
<circle cx="368.6" cy="1023.4" r="3.2"/>
<circle cx="823.6" cy="602.9" r="3.2"/>
<circle cx="1289.5" cy="110.5" r="3.2"/>
<circle cx="1249.3" cy="147.4" r="3.2"/>
<circle cx="1238.1" cy="158.2" r="3.2"/>
<circle cx="1214.9" cy="180.9" r="3.2"/>
<circle cx="1213.9" cy="183" r="3.2"/>
<circle cx="1212.3" cy="186.2" r="3.2"/>
<circle cx="1198.1" cy="197.2" r="3.2"/>
<circle cx="1193.8" cy="202.6" r="3.2"/>
<circle cx="1189.7" cy="207.8" r="3.2"/>
<circle cx="1177.7" cy="217.9" r="3.2"/>
<circle cx="1172.6" cy="223.3" r="3.2"/>
<circle cx="1180.6" cy="210.8" r="3.2"/>
<circle cx="1150.1" cy="242.6" r="3.2"/>
<circle cx="1132.8" cy="263.6" r="3.2"/>
<circle cx="1124.4" cy="272.7" r="3.2"/>
<circle cx="1117.7" cy="277.9" r="3.2"/>
<circle cx="1114.4" cy="283.1" r="3.2"/>
<circle cx="1107.3" cy="290.9" r="3.2"/>
<circle cx="1127.9" cy="263.2" r="3.2"/>
<circle cx="1120.3" cy="270" r="3.2"/>
<circle cx="1111.1" cy="280.6" r="3.2"/>
<circle cx="1097" cy="296.2" r="3.2"/>
<circle cx="1091.2" cy="305" r="3.2"/>
<circle cx="1082.5" cy="309.8" r="3.2"/>
<circle cx="1076.3" cy="319.8" r="3.2"/>
<circle cx="1074.7" cy="323" r="3.2"/>
<circle cx="1066.3" cy="328.3" r="3.2"/>
<circle cx="1056.2" cy="336.8" r="3.2"/>
<circle cx="1053.9" cy="342.1" r="3.2"/>
<circle cx="1050.1" cy="344.4" r="3.2"/>
<circle cx="1065.3" cy="326.4" r="3.2"/>
<circle cx="1081" cy="313.5" r="3.2"/>
<circle cx="1035.9" cy="357.9" r="3.2"/>
<circle cx="1043.8" cy="347.2" r="3.2"/>
<circle cx="1010.6" cy="385" r="3.2"/>
<circle cx="1012.4" cy="377.2" r="3.2"/>
<circle cx="1015.5" cy="374.2" r="3.2"/>
<circle cx="1016.6" cy="379.3" r="3.2"/>
<circle cx="1019.1" cy="372" r="3.2"/>
<circle cx="1023" cy="368.6" r="3.2"/>
<circle cx="1024.8" cy="368" r="3.2"/>
<circle cx="1025.8" cy="365" r="3.2"/>
<circle cx="1029.5" cy="363.7" r="3.2"/>
<circle cx="1031.6" cy="361.8" r="3.2"/>
<circle cx="1034.4" cy="360.7" r="3.2"/>
<circle cx="1036.1" cy="353.7" r="3.2"/>
<circle cx="1007.6" cy="382.1" r="3.2"/>
<circle cx="979.5" cy="413.2" r="3.2"/>
<circle cx="982.4" cy="410.7" r="3.2"/>
<circle cx="986.7" cy="408.2" r="3.2"/>
<circle cx="990.2" cy="401.9" r="3.2"/>
<circle cx="992.3" cy="401.6" r="3.2"/>
<circle cx="995.8" cy="400.3" r="3.2"/>
<circle cx="998.2" cy="392.4" r="3.2"/>
<circle cx="1001" cy="395.5" r="3.2"/>
<circle cx="956.3" cy="435.9" r="3.2"/>
<circle cx="962.5" cy="430.3" r="3.2"/>
<circle cx="971.7" cy="418.7" r="3.2"/>
<circle cx="940.5" cy="450.8" r="3.2"/>
<circle cx="945.3" cy="445" r="3.2"/>
<circle cx="947.2" cy="447.9" r="3.2"/>
<circle cx="950.8" cy="440.8" r="3.2"/>
<circle cx="952.2" cy="437.2" r="3.2"/>
<circle cx="921.4" cy="469.3" r="3.2"/>
<circle cx="923.5" cy="469" r="3.2"/>
<circle cx="925.4" cy="464.4" r="3.2"/>
<circle cx="927.5" cy="461.6" r="3.2"/>
<circle cx="930.1" cy="462.7" r="3.2"/>
<circle cx="931.9" cy="457.3" r="3.2"/>
<circle cx="934" cy="460.8" r="3.2"/>
<circle cx="935.2" cy="456.9" r="3.2"/>
<circle cx="937.6" cy="452.6" r="3.2"/>
<circle cx="938.7" cy="452.1" r="3.2"/>
<circle cx="879.2" cy="510.3" r="3.2"/>
<circle cx="880" cy="511.4" r="3.2"/>
<circle cx="881.5" cy="511.3" r="3.2"/>
<circle cx="881.8" cy="509.6" r="3.2"/>
<circle cx="882.5" cy="506.5" r="3.2"/>
<circle cx="883.6" cy="508.5" r="3.2"/>
<circle cx="884.1" cy="507.3" r="3.2"/>
<circle cx="885.5" cy="504.9" r="3.2"/>
<circle cx="886.4" cy="506" r="3.2"/>
<circle cx="886.8" cy="502.8" r="3.2"/>
<circle cx="888" cy="506.2" r="3.2"/>
<circle cx="888.2" cy="503.3" r="3.2"/>
<circle cx="889.5" cy="503" r="3.2"/>
<circle cx="889.9" cy="500.8" r="3.2"/>
<circle cx="891.2" cy="502.9" r="3.2"/>
<circle cx="891.9" cy="501.7" r="3.2"/>
<circle cx="892.5" cy="499" r="3.2"/>
<circle cx="892.9" cy="498.2" r="3.2"/>
<circle cx="894.2" cy="500.6" r="3.2"/>
<circle cx="895.2" cy="493.8" r="3.2"/>
<circle cx="895.6" cy="495.2" r="3.2"/>
<circle cx="896.3" cy="494.4" r="3.2"/>
<circle cx="897.6" cy="496.6" r="3.2"/>
<circle cx="898.2" cy="495.8" r="3.2"/>
<circle cx="899" cy="495.6" r="3.2"/>
<circle cx="899.9" cy="492.3" r="3.2"/>
<circle cx="900.8" cy="490.7" r="3.2"/>
<circle cx="901.7" cy="490.1" r="3.2"/>
<circle cx="902.5" cy="491.1" r="3.2"/>
<circle cx="902.7" cy="486.4" r="3.2"/>
<circle cx="904" cy="486.4" r="3.2"/>
<circle cx="905" cy="488.3" r="3.2"/>
<circle cx="905.4" cy="484.9" r="3.2"/>
<circle cx="906.6" cy="486.7" r="3.2"/>
<circle cx="907.3" cy="481.7" r="3.2"/>
<circle cx="908.1" cy="482.8" r="3.2"/>
<circle cx="908.4" cy="482.6" r="3.2"/>
<circle cx="909.2" cy="482.8" r="3.2"/>
<circle cx="910.5" cy="481.1" r="3.2"/>
<circle cx="911.1" cy="483.6" r="3.2"/>
<circle cx="912.2" cy="480.3" r="3.2"/>
<circle cx="912.7" cy="477.1" r="3.2"/>
<circle cx="913.2" cy="476.5" r="3.2"/>
<circle cx="914" cy="478.4" r="3.2"/>
<circle cx="915.1" cy="476.4" r="3.2"/>
<circle cx="915.9" cy="478.2" r="3.2"/>
<circle cx="916.7" cy="474.4" r="3.2"/>
<circle cx="917.7" cy="474.9" r="3.2"/>
<circle cx="918.5" cy="476.4" r="3.2"/>
<circle cx="919.2" cy="473.4" r="3.2"/>
<circle cx="920.1" cy="472.2" r="3.2"/>
<circle cx="920.7" cy="474.4" r="3.2"/>
<circle cx="837.6" cy="556.3" r="3.2"/>
<circle cx="838" cy="555.9" r="3.2"/>
<circle cx="838.3" cy="551.5" r="3.2"/>
<circle cx="838.8" cy="551.6" r="3.2"/>
<circle cx="839.7" cy="549" r="3.2"/>
<circle cx="840" cy="552.8" r="3.2"/>
<circle cx="840.5" cy="548.2" r="3.2"/>
<circle cx="841.1" cy="552.9" r="3.2"/>
<circle cx="841.8" cy="552.4" r="3.2"/>
<circle cx="842.2" cy="549.2" r="3.2"/>
<circle cx="842.8" cy="547.4" r="3.2"/>
<circle cx="843.6" cy="545.8" r="3.2"/>
<circle cx="844" cy="545.4" r="3.2"/>
<circle cx="844.6" cy="547.2" r="3.2"/>
<circle cx="845.3" cy="543.4" r="3.2"/>
<circle cx="845.4" cy="545.2" r="3.2"/>
<circle cx="846.3" cy="544.3" r="3.2"/>
<circle cx="846.7" cy="547.2" r="3.2"/>
<circle cx="847.1" cy="541.6" r="3.2"/>
<circle cx="847.8" cy="545" r="3.2"/>
<circle cx="848.1" cy="544.7" r="3.2"/>
<circle cx="848.7" cy="545.4" r="3.2"/>
<circle cx="849.6" cy="539.1" r="3.2"/>
<circle cx="849.7" cy="543.9" r="3.2"/>
<circle cx="850.4" cy="538.3" r="3.2"/>
<circle cx="850.9" cy="539" r="3.2"/>
<circle cx="851.5" cy="538.4" r="3.2"/>
<circle cx="851.9" cy="538.4" r="3.2"/>
<circle cx="852.6" cy="540.6" r="3.2"/>
<circle cx="853.2" cy="537" r="3.2"/>
<circle cx="853.5" cy="537" r="3.2"/>
<circle cx="854.5" cy="537.7" r="3.2"/>
<circle cx="854.9" cy="539.3" r="3.2"/>
<circle cx="855.6" cy="535.9" r="3.2"/>
<circle cx="856.2" cy="535.2" r="3.2"/>
<circle cx="856.6" cy="537.8" r="3.2"/>
<circle cx="857.2" cy="535.7" r="3.2"/>
<circle cx="857.6" cy="533.6" r="3.2"/>
<circle cx="858" cy="531.7" r="3.2"/>
<circle cx="858.6" cy="531.6" r="3.2"/>
<circle cx="859.4" cy="534.4" r="3.2"/>
<circle cx="859.7" cy="530.9" r="3.2"/>
<circle cx="860.3" cy="529.8" r="3.2"/>
<circle cx="860.8" cy="528.1" r="3.2"/>
<circle cx="861.5" cy="527.4" r="3.2"/>
<circle cx="861.9" cy="529.3" r="3.2"/>
<circle cx="862.5" cy="529.4" r="3.2"/>
<circle cx="862.9" cy="529.1" r="3.2"/>
<circle cx="863.5" cy="526.3" r="3.2"/>
<circle cx="863.9" cy="525.6" r="3.2"/>
<circle cx="864.6" cy="527.9" r="3.2"/>
<circle cx="865.4" cy="527.4" r="3.2"/>
<circle cx="866" cy="525.4" r="3.2"/>
<circle cx="866.6" cy="523.6" r="3.2"/>
<circle cx="867" cy="522.7" r="3.2"/>
<circle cx="867.6" cy="525.1" r="3.2"/>
<circle cx="868.1" cy="522" r="3.2"/>
<circle cx="868.5" cy="525.3" r="3.2"/>
<circle cx="869.2" cy="519.6" r="3.2"/>
<circle cx="869.7" cy="523.4" r="3.2"/>
<circle cx="869.9" cy="520.2" r="3.2"/>
<circle cx="870.5" cy="523.3" r="3.2"/>
<circle cx="871.3" cy="521.4" r="3.2"/>
<circle cx="871.8" cy="517.7" r="3.2"/>
<circle cx="872.5" cy="519.6" r="3.2"/>
<circle cx="873" cy="516.8" r="3.2"/>
<circle cx="873.3" cy="516.5" r="3.2"/>
<circle cx="874.1" cy="516.4" r="3.2"/>
<circle cx="874.8" cy="517.3" r="3.2"/>
<circle cx="875" cy="518" r="3.2"/>
<circle cx="875.7" cy="517.2" r="3.2"/>
<circle cx="876" cy="514.8" r="3.2"/>
<circle cx="876.6" cy="515.9" r="3.2"/>
<circle cx="877" cy="513.9" r="3.2"/>
<circle cx="877.9" cy="515.2" r="3.2"/>
<circle cx="878.3" cy="513.6" r="3.2"/>
<circle cx="878.7" cy="515.6" r="3.2"/>
<circle cx="788" cy="605.2" r="3.2"/>
<circle cx="788.2" cy="600.2" r="3.2"/>
<circle cx="788.7" cy="601.4" r="3.2"/>
<circle cx="789.3" cy="600.5" r="3.2"/>
<circle cx="789.4" cy="599" r="3.2"/>
<circle cx="789.9" cy="602.8" r="3.2"/>
<circle cx="790.7" cy="601.5" r="3.2"/>
<circle cx="791.1" cy="600" r="3.2"/>
<circle cx="791.2" cy="600" r="3.2"/>
<circle cx="791.8" cy="597.8" r="3.2"/>
<circle cx="792.2" cy="600.6" r="3.2"/>
<circle cx="792.9" cy="600" r="3.2"/>
<circle cx="793.4" cy="595" r="3.2"/>
<circle cx="793.6" cy="597.1" r="3.2"/>
<circle cx="794.3" cy="597.3" r="3.2"/>
<circle cx="794.5" cy="595.7" r="3.2"/>
<circle cx="794.8" cy="598" r="3.2"/>
<circle cx="795.7" cy="594.4" r="3.2"/>
<circle cx="795.9" cy="593.9" r="3.2"/>
<circle cx="796.6" cy="596.5" r="3.2"/>
<circle cx="796.9" cy="591.6" r="3.2"/>
<circle cx="797.3" cy="595" r="3.2"/>
<circle cx="797.8" cy="593.2" r="3.2"/>
<circle cx="798.2" cy="592.1" r="3.2"/>
<circle cx="798.8" cy="590.7" r="3.2"/>
<circle cx="799" cy="591.3" r="3.2"/>
<circle cx="799.7" cy="590.4" r="3.2"/>
<circle cx="799.9" cy="591.7" r="3.2"/>
<circle cx="800.3" cy="589.4" r="3.2"/>
<circle cx="801.1" cy="590.3" r="3.2"/>
<circle cx="801.5" cy="592.2" r="3.2"/>
<circle cx="801.6" cy="588.3" r="3.2"/>
<circle cx="802.1" cy="587.2" r="3.2"/>
<circle cx="802.6" cy="585.9" r="3.2"/>
<circle cx="803.2" cy="587.7" r="3.2"/>
<circle cx="803.6" cy="587.2" r="3.2"/>
<circle cx="803.8" cy="584.6" r="3.2"/>
<circle cx="804.3" cy="587.1" r="3.2"/>
<circle cx="805.1" cy="584.9" r="3.2"/>
<circle cx="805.3" cy="585.6" r="3.2"/>
<circle cx="806" cy="582.5" r="3.2"/>
<circle cx="806.1" cy="583.1" r="3.2"/>
<circle cx="806.9" cy="584.3" r="3.2"/>
<circle cx="807" cy="581.5" r="3.2"/>
<circle cx="807.8" cy="580.7" r="3.2"/>
<circle cx="808" cy="581.5" r="3.2"/>
<circle cx="808.5" cy="580" r="3.2"/>
<circle cx="809.1" cy="583" r="3.2"/>
<circle cx="809.4" cy="582.2" r="3.2"/>
<circle cx="810" cy="578.5" r="3.2"/>
<circle cx="810.4" cy="580.1" r="3.2"/>
<circle cx="810.7" cy="581.4" r="3.2"/>
<circle cx="811.1" cy="578.3" r="3.2"/>
<circle cx="811.7" cy="579.2" r="3.2"/>
<circle cx="812.2" cy="576.9" r="3.2"/>
<circle cx="812.6" cy="581.1" r="3.2"/>
<circle cx="813.2" cy="578.1" r="3.2"/>
<circle cx="813.4" cy="580.3" r="3.2"/>
<circle cx="813.9" cy="575.3" r="3.2"/>
<circle cx="814.5" cy="576.6" r="3.2"/>
<circle cx="814.9" cy="578.6" r="3.2"/>
<circle cx="815.1" cy="575.6" r="3.2"/>
<circle cx="815.8" cy="574.2" r="3.2"/>
<circle cx="816.3" cy="575.2" r="3.2"/>
<circle cx="816.9" cy="573.7" r="3.2"/>
<circle cx="817" cy="573.1" r="3.2"/>
<circle cx="817.5" cy="576.2" r="3.2"/>
<circle cx="817.9" cy="572.3" r="3.2"/>
<circle cx="818.5" cy="575.2" r="3.2"/>
<circle cx="818.9" cy="569.7" r="3.2"/>
<circle cx="819.2" cy="570.1" r="3.2"/>
<circle cx="819.8" cy="568.8" r="3.2"/>
<circle cx="820.4" cy="568.2" r="3.2"/>
<circle cx="820.6" cy="567.9" r="3.2"/>
<circle cx="821.3" cy="568" r="3.2"/>
<circle cx="821.6" cy="569.4" r="3.2"/>
<circle cx="821.9" cy="567.2" r="3.2"/>
<circle cx="822.4" cy="571.3" r="3.2"/>
<circle cx="823.2" cy="566.9" r="3.2"/>
<circle cx="823.6" cy="569.6" r="3.2"/>
<circle cx="823.7" cy="567.8" r="3.2"/>
<circle cx="824.5" cy="565.5" r="3.2"/>
<circle cx="824.9" cy="564.3" r="3.2"/>
<circle cx="825.4" cy="567.5" r="3.2"/>
<circle cx="825.5" cy="563.1" r="3.2"/>
<circle cx="826" cy="562.6" r="3.2"/>
<circle cx="826.5" cy="562.1" r="3.2"/>
<circle cx="827.1" cy="563.3" r="3.2"/>
<circle cx="827.4" cy="563.1" r="3.2"/>
<circle cx="828" cy="565.6" r="3.2"/>
<circle cx="828.6" cy="560.7" r="3.2"/>
<circle cx="828.8" cy="559.8" r="3.2"/>
<circle cx="829.2" cy="561.2" r="3.2"/>
<circle cx="829.7" cy="564" r="3.2"/>
<circle cx="830.3" cy="562.5" r="3.2"/>
<circle cx="830.8" cy="561.4" r="3.2"/>
<circle cx="831" cy="559.9" r="3.2"/>
<circle cx="831.3" cy="558.8" r="3.2"/>
<circle cx="831.9" cy="557.6" r="3.2"/>
<circle cx="832.5" cy="556.2" r="3.2"/>
<circle cx="833.1" cy="561" r="3.2"/>
<circle cx="833.1" cy="556.5" r="3.2"/>
<circle cx="833.9" cy="557.5" r="3.2"/>
<circle cx="834.2" cy="558.1" r="3.2"/>
<circle cx="834.8" cy="558.6" r="3.2"/>
<circle cx="835" cy="558.4" r="3.2"/>
<circle cx="835.6" cy="555.4" r="3.2"/>
<circle cx="835.9" cy="554.5" r="3.2"/>
<circle cx="836.3" cy="557.3" r="3.2"/>
<circle cx="836.9" cy="551.8" r="3.2"/>
</g>
<line x1="188.5" y1="1196.4" x2="1289.5" y2="101.8" stroke="#58c475" stroke-width="5.4" stroke-linecap="square"/>
<line x1="262" y1="1123.3" x2="262" y2="1081.8" stroke="#000" stroke-width="2.7" stroke-linecap="square"/>
<line x1="310.1" y1="1075.5" x2="310.1" y2="1168.5" stroke="#000" stroke-width="2.7" stroke-linecap="square"/>
<line x1="522.8" y1="864.1" x2="522.8" y2="898.4" stroke="#000" stroke-width="2.7" stroke-linecap="square"/>
<line x1="823.6" y1="565" x2="823.6" y2="602.9" stroke="#000" stroke-width="2.7" stroke-linecap="square"/>
<text x="267.1" y="1101.8000000000002" font-size="22.9">54.76</text>
<text x="322.2" y="1122.3000000000002" font-size="22.9">122.62</text>
<text x="527.4" y="881.1999999999999" font-size="22.9">45.22</text>
<text x="828.6" y="583.6999999999999" font-size="22.9">49.93</text>
</g>
<g font-size="27.17">
<text x="920.3" y="676.4">Generation Difference:</text>
<text x="920.3" y="707.1">Mean: 0.34 kWh</text>
<text x="920.3" y="737.8">Standard Deviation: 2.02 kWh</text>
<text x="920.3" y="768.6">Max: 122.62 kWh</text>
<text x="920.3" y="799.3">Min: 0.00 kWh</text>
<text x="920.3" y="830">Median: 0.02 kWh</text>
</g>
<g stroke="#000" stroke-width="2.7" fill="#fff">
<rect x="714.9" y="953.2" width="302.6" height="45.6"/><rect x="1017.5" y="953.2" width="302.7" height="45.6"/>
<rect x="714.9" y="998.8" width="302.6" height="45.6"/><rect x="1017.5" y="998.8" width="302.7" height="45.6"/>
<rect x="714.9" y="1044.4" width="302.6" height="45.6"/><rect x="1017.5" y="1044.4" width="302.7" height="45.6"/>
<rect x="714.9" y="1090" width="302.6" height="45.6"/><rect x="1017.5" y="1090" width="302.7" height="45.6"/>
<rect x="714.9" y="1135.6" width="302.6" height="45.6"/><rect x="1017.5" y="1135.6" width="302.7" height="45.6"/>
<rect x="714.9" y="1181.2" width="302.6" height="45.6"/><rect x="1017.5" y="1181.2" width="302.7" height="45.6"/>
</g>
<g font-size="24.43" text-anchor="middle">
<text x="866.2" y="982.9">Difference Range (kWh)</text><text x="1168.8" y="982.9">Percentage (%)</text>
<text x="866.2" y="1028.5">0~0.1</text><text x="1168.8" y="1028.5">60.601</text>
<text x="866.2" y="1074.1">0.1~0.5</text><text x="1168.8" y="1074.1">22.020</text>
<text x="866.2" y="1119.7">0.5~1</text><text x="1168.8" y="1119.7">9.622</text>
<text x="866.2" y="1165.3">1~10</text><text x="1168.8" y="1165.3">7.577</text>
<text x="866.2" y="1210.9">&gt;10</text><text x="1168.8" y="1210.9">0.180</text>
</g>
<rect x="146.6" y="61.3" width="287.5" height="127.6" rx="5.4" fill="#fff" fill-opacity=".8" stroke="#ccc" stroke-opacity=".8" stroke-width="2.7"/>
<circle cx="185.2" cy="85.9" r="20.7" fill="#d66b94" fill-opacity=".13" stroke="#d66b94" stroke-opacity=".13" stroke-width="2.4"/>
<circle cx="185" cy="125.8" r="3.2" fill="#000" fill-opacity=".85"/>
<line x1="158" y1="163.3" x2="212" y2="163.3" stroke="#58c475" stroke-width="5.2" stroke-linecap="square"/>
<g font-size="27.2"><text x="233.7" y="92.6">Data Points</text><text x="233.7" y="132.4">Central Points</text><text x="233.7" y="172.2">1:1 Line</text></g>
<g stroke="#787878" stroke-opacity=".5" stroke-width="2.3" fill="none">
<rect x="188.5" y="968.8" width="228.9" height="227.6"/>
<line x1="245.0" y1="444.7" x2="188.5" y2="968.8"/>
<line x1="547.3" y1="745.1" x2="417.4" y2="1196.4"/>
</g>
<rect x="245.0" y="444.7" width="302.3" height="300.4" fill="#fff"/>
<g clip-path="url(#ci)">
<line x1="225.8" y1="766.1" x2="568.5" y2="425.7" stroke="#d66b94" stroke-width="24.6"/>
<g fill="#d66b94" fill-opacity=".5" stroke="#d66b94" stroke-opacity=".5" stroke-width="2.7">
<circle cx="405.5" cy="499.2" r="9.55"/>
<circle cx="342" cy="593.9" r="9.55"/>
<circle cx="342" cy="663.5" r="9.55"/>
<circle cx="342.2" cy="669.5" r="9.55"/>
<circle cx="342" cy="673" r="9.55"/>
<circle cx="341.9" cy="679" r="9.55"/>
<circle cx="342.1" cy="686" r="9.55"/>
<circle cx="342" cy="688.5" r="9.55"/>
<circle cx="341.9" cy="693.5" r="9.55"/>
<circle cx="342.1" cy="695" r="9.55"/>
<circle cx="342" cy="714.1" r="9.55"/>
<circle cx="342" cy="722.8" r="9.55"/>
<circle cx="405.6" cy="587" r="9.55"/>
<circle cx="405.5" cy="600.6" r="9.55"/>
<circle cx="405.6" cy="616.1" r="9.55"/>
<circle cx="405.5" cy="629.7" r="9.55"/>
<circle cx="405.6" cy="647.2" r="9.55"/>
<circle cx="405.5" cy="656.7" r="9.55"/>
<circle cx="405.6" cy="659.4" r="9.55"/>
<circle cx="405.5" cy="693.8" r="9.55"/>
<circle cx="405.6" cy="695.6" r="9.55"/>
<circle cx="405.5" cy="708.3" r="9.55"/>
<circle cx="330.7" cy="643.9" r="9.55"/>
<circle cx="285.3" cy="694.8" r="9.55"/>
<circle cx="297.4" cy="704.4" r="9.55"/>
<circle cx="326" cy="681.5" r="9.55"/>
<circle cx="345.8" cy="663.3" r="9.55"/>
<circle cx="274.7" cy="722.6" r="9.55"/>
<circle cx="379.2" cy="638.9" r="9.55"/>
<circle cx="373.3" cy="640.4" r="9.55"/>
<circle cx="366.9" cy="644" r="9.55"/>
<circle cx="361.5" cy="647.8" r="9.55"/>
<circle cx="355.8" cy="649.5" r="9.55"/>
<circle cx="370" cy="637" r="9.55"/>
<circle cx="363.9" cy="641.5" r="9.55"/>
<circle cx="350.8" cy="651" r="9.55"/>
<circle cx="376" cy="633" r="9.55"/>
<circle cx="423.9" cy="577.9" r="9.55"/>
<circle cx="410" cy="597.4" r="9.55"/>
<circle cx="482.8" cy="525.2" r="9.55"/>
<circle cx="490.4" cy="515.3" r="9.55"/>
<circle cx="494.4" cy="513.3" r="9.55"/>
<circle cx="497.4" cy="509.3" r="9.55"/>
<circle cx="518.3" cy="480.2" r="9.55"/>
<circle cx="536.7" cy="461.7" r="9.55"/>
<circle cx="556.4" cy="450.2" r="9.55"/>
<circle cx="482.8" cy="516.8" r="9.55"/>
</g></g>
<rect x="245.0" y="444.7" width="302.3" height="300.4" fill="none" stroke="#000" stroke-width="2.16"/>
<g stroke="#000" stroke-width="2.16">
<line x1="245" y1="745.1" x2="245" y2="754.7"/>
<line x1="245.0" y1="745.1" x2="235.4" y2="745.1"/>
<line x1="295.4" y1="745.1" x2="295.4" y2="754.7"/>
<line x1="245.0" y1="695" x2="235.4" y2="695"/>
<line x1="345.8" y1="745.1" x2="345.8" y2="754.7"/>
<line x1="245.0" y1="645" x2="235.4" y2="645"/>
<line x1="396.1" y1="745.1" x2="396.1" y2="754.7"/>
<line x1="245.0" y1="594.9" x2="235.4" y2="594.9"/>
<line x1="446.5" y1="745.1" x2="446.5" y2="754.7"/>
<line x1="245.0" y1="544.8" x2="235.4" y2="544.8"/>
<line x1="496.9" y1="745.1" x2="496.9" y2="754.7"/>
<line x1="245.0" y1="494.8" x2="235.4" y2="494.8"/>
<line x1="547.3" y1="745.1" x2="547.3" y2="754.7"/>
<line x1="245.0" y1="444.7" x2="235.4" y2="444.7"/>
</g>
<g font-size="21.6">
<text x="245" y="777.5" text-anchor="middle">0</text>
<text x="229.6" y="753.3" text-anchor="end">0</text>
<text x="295.4" y="777.5" text-anchor="middle">50</text>
<text x="229.6" y="703.2" text-anchor="end">50</text>
<text x="345.8" y="777.5" text-anchor="middle">100</text>
<text x="229.6" y="653.2" text-anchor="end">100</text>
<text x="396.1" y="777.5" text-anchor="middle">150</text>
<text x="229.6" y="603.1" text-anchor="end">150</text>
<text x="446.5" y="777.5" text-anchor="middle">200</text>
<text x="229.6" y="553" text-anchor="end">200</text>
<text x="496.9" y="777.5" text-anchor="middle">250</text>
<text x="229.6" y="503" text-anchor="end">250</text>
<text x="547.3" y="777.5" text-anchor="middle">300</text>
<text x="229.6" y="452.9" text-anchor="end">300</text>
</g>
<rect x="133.6" y="47.5" width="1210.6" height="1203.3" fill="none" stroke="#000" stroke-width="2.16"/>
<g stroke="#000" stroke-width="2.16">
<line x1="188.5" y1="1250.8" x2="188.5" y2="1260.2"/>
<line x1="133.6" y1="1196.4" x2="124.1" y2="1196.4"/>
<line x1="341.1" y1="1250.8" x2="341.1" y2="1260.2"/>
<line x1="133.6" y1="1044.7" x2="124.1" y2="1044.7"/>
<line x1="493.8" y1="1250.8" x2="493.8" y2="1260.2"/>
<line x1="133.6" y1="892.9" x2="124.1" y2="892.9"/>
<line x1="646.4" y1="1250.8" x2="646.4" y2="1260.2"/>
<line x1="133.6" y1="741.2" x2="124.1" y2="741.2"/>
<line x1="799" y1="1250.8" x2="799" y2="1260.2"/>
<line x1="133.6" y1="589.4" x2="124.1" y2="589.4"/>
<line x1="951.6" y1="1250.8" x2="951.6" y2="1260.2"/>
<line x1="133.6" y1="437.7" x2="124.1" y2="437.7"/>
<line x1="1104.3" y1="1250.8" x2="1104.3" y2="1260.2"/>
<line x1="133.6" y1="285.9" x2="124.1" y2="285.9"/>
<line x1="1256.9" y1="1250.8" x2="1256.9" y2="1260.2"/>
<line x1="133.6" y1="134.2" x2="124.1" y2="134.2"/>
</g>
<g font-size="27">
<text x="188.5" y="1290.8" text-anchor="middle">0</text>
<text x="114.4" y="1206.7" text-anchor="end">0</text>
<text x="341.1" y="1290.8" text-anchor="middle">200</text>
<text x="114.4" y="1055" text-anchor="end">200</text>
<text x="493.8" y="1290.8" text-anchor="middle">400</text>
<text x="114.4" y="903.2" text-anchor="end">400</text>
<text x="646.4" y="1290.8" text-anchor="middle">600</text>
<text x="114.4" y="751.5" text-anchor="end">600</text>
<text x="799" y="1290.8" text-anchor="middle">800</text>
<text x="114.4" y="599.7" text-anchor="end">800</text>
<text x="951.6" y="1290.8" text-anchor="middle">1000</text>
<text x="114.4" y="448" text-anchor="end">1000</text>
<text x="1104.3" y="1290.8" text-anchor="middle">1200</text>
<text x="114.4" y="296.2" text-anchor="end">1200</text>
<text x="1256.9" y="1290.8" text-anchor="middle">1400</text>
<text x="114.4" y="144.5" text-anchor="end">1400</text>
</g>
<text x="738.9" y="31" font-size="35.28" text-anchor="middle">Daily Generation by Site and Inverter Calculation</text>
<text x="738.9" y="1329.8" font-size="29.8" text-anchor="middle">Daily Generation Integrated by Site Data (kWh)</text>
<text transform="translate(27.6 649.2) rotate(-90)" font-size="29.8" text-anchor="middle">Daily Generation Integrated by Inverter Data (kWh)</text>
</svg>
</body></html>
